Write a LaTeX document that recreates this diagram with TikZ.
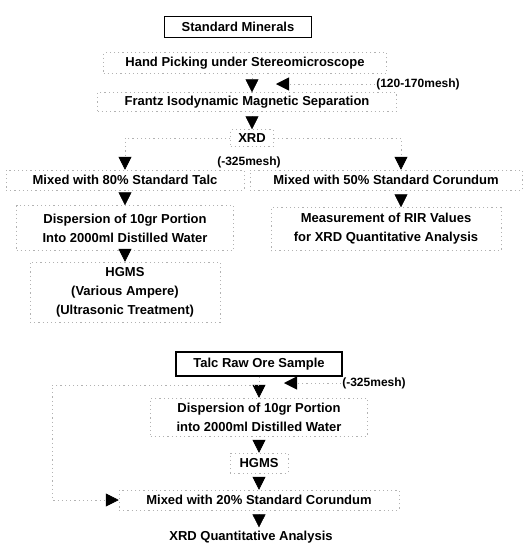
\documentclass[tikz,border=0pt]{standalone}
\usepackage{fontspec}
\setmainfont{Liberation Sans}
\usepackage{tikz}
\usetikzlibrary{arrows.meta}
\usetikzlibrary{positioning}

\tikzset{
  every node/.style={font=\bfseries\fontsize{13}{19}\selectfont},
  stepbox/.style={draw=gray!60, dash pattern=on 1.2pt off 3pt, line width=0.5pt, minimum height=20pt, inner sep=2pt, align=center},
  startbox/.style={draw, line width=1.2pt, minimum height=21pt, inner sep=2pt},
  meshlabel/.style={font=\bfseries\fontsize{12}{14}\selectfont, inner sep=1pt},
  flow/.style={draw=gray!60, dash pattern=on 1.2pt off 3pt, line width=0.5pt, -{Triangle[length=13pt,width=13pt,color=black]}}
}

\begin{document}
\begin{tikzpicture}[x=1pt, y=-1pt]
    \useasboundingbox (0,0) rectangle (526,544);
    \node[startbox, minimum width=147pt] (std) at (238,27) {Standard Minerals};
    \node[stepbox, minimum width=283pt, minimum height=21pt] (hand) at (245,63) {Hand Picking under Stereomicroscope};
    \node[meshlabel] (mesh1) at (418,84) {(120-170mesh)};
    \node[stepbox, minimum width=299pt, minimum height=19pt] (frantz) at (247,102) {Frantz Isodynamic Magnetic Separation};
    \node[stepbox, minimum width=43pt, minimum height=17pt] (xrd) at (252,138) {XRD};
    \node[meshlabel] (mesh2) at (249,162) {(-325mesh)};
    \node[stepbox, minimum width=238pt] (talc) at (125,180) {Mixed with 80\% Standard Talc};
    \node[stepbox, minimum width=272pt] (coru) at (386,180) {Mixed with 50\% Standard Corundum};
    \node[stepbox, minimum width=217pt, minimum height=45pt] (disp) at (125,228) {Dispersion of 10gr Portion\\Into 2000ml Distilled Water};
    \node[stepbox, minimum width=230pt, minimum height=43pt] (rir) at (386,229) {Measurement of RIR Values\\for XRD Quantitative Analysis};
    \node[stepbox, minimum width=190pt, minimum height=60pt] (hgms) at (125,292) {HGMS\\(Various Ampere)\\(Ultrasonic Treatment)};
    \coordinate (mtip1) at (276,84);

    \draw[flow] (hand.south -| xrd) -- (frantz.north -| xrd);
    \draw[flow] (mesh1.west) -- (mtip1);
    \draw[flow] (frantz.south -| xrd) -- (xrd.north);
    \draw[flow] (xrd.west) -| (talc.north);
    \draw[flow] (xrd.east) -| ([xshift=15pt]coru.north);
    \draw[flow] (talc) -- (disp);
    \draw[flow] ([xshift=15pt]coru.south) -- ([xshift=15pt]rir.north);
    \draw[flow] (disp) -- (hgms);

    \node[startbox, minimum width=166pt, minimum height=24pt] (raw) at (259,364) {Talc Raw Ore Sample};
    \node[meshlabel] (mesh3) at (374,383) {(-325mesh)};
    \node[stepbox, minimum width=217pt, minimum height=38pt] (disp2) at (259,417) {Dispersion of 10gr Portion\\into 2000ml Distilled Water};
    \node[stepbox, minimum width=58pt] (hgms2) at (259,463) {HGMS};
    \node[stepbox, minimum width=280pt] (mix2) at (259,500) {Mixed with 20\% Standard Corundum};
    \node (qa) at (251,537) {XRD Quantitative Analysis};
    \coordinate (mtip3) at (284,383);
    \coordinate (lft) at (52,385);

    \draw[flow] (raw) -- (disp2);
    \draw[flow] (mesh3.west) -- (mtip3);
    \draw[flow] (raw.south |- lft) -- (lft) |- (mix2.west);
    \draw[flow] (disp2) -- (hgms2);
    \draw[flow] (hgms2) -- (mix2);
    \draw[flow] (mix2.south) -- (mix2.south |- qa.north);
\end{tikzpicture}
\end{document}
